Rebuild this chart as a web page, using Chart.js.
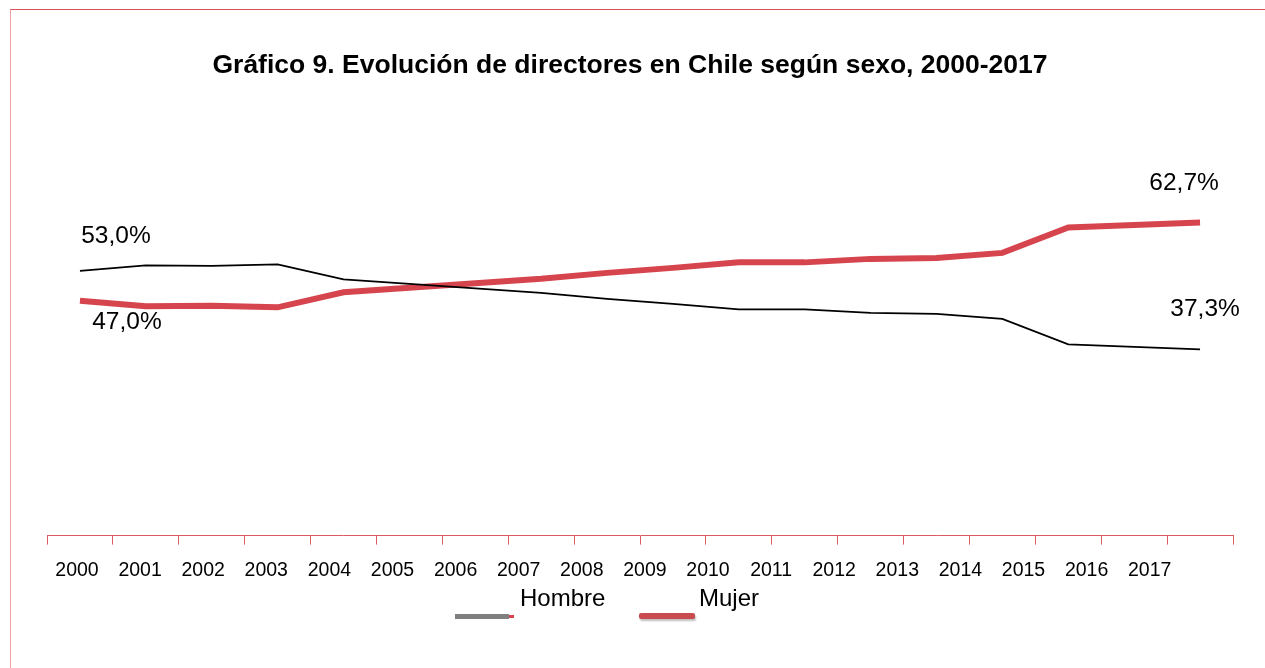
<!DOCTYPE html>
<html>
<head>
<meta charset="utf-8">
<script src="https://cdn.jsdelivr.net/npm/chart.js@4"></script>
<style>
  body { margin: 0; background: #fff; font-family: "Liberation Sans", Arial, sans-serif; }
  #wrap { position: relative; width: 1265px; height: 668px; overflow: hidden; }
  #frame { position: absolute; left: 10px; top: 9px; width: 1300px; height: 700px;
           border-top: 1px solid #d9525a; border-left: 1px solid #eea0a4; }
  canvas { position: absolute; left: 0; top: 0; }
  #titulo { position: absolute; left: 0; width: 1260px; top: 51px; text-align: center;
            font-size: 26.5px; font-weight: bold; line-height: 1; color: #000; }
  .leg { position: absolute; font-size: 24px; color: #000; line-height: 1; }
  .sw { position: absolute; }
</style>
</head>
<body>
<div id="wrap">
  <div id="frame"></div>
  <canvas id="grafico" width="1265" height="668"></canvas>
  <div id="titulo">Gráfico 9. Evolución de directores en Chile según sexo, 2000-2017</div>
  <div class="sw" style="left:455px;top:614px;width:54px;height:5px;background:#7f7f7f"></div>
  <div class="sw" style="left:509px;top:615px;width:5px;height:3px;background:#d6454e"></div>
  <div class="leg" style="left:520px;top:586px">Hombre</div>
  <div class="sw" style="left:639px;top:613px;width:56px;height:6px;background:#c94a4f;border-radius:2px;box-shadow:1px 2px 2px rgba(0,0,0,0.25)"></div>
  <div class="leg" style="left:699px;top:586px">Mujer</div>
</div>
<script>
  // Datos (porcentajes)
  const anios = ["2000", "2001", "2002", "2003", "2004", "2005", "2006", "2007", "2008",
                 "2009", "2010", "2011", "2012", "2013", "2014", "2015", "2016", "2017"];
  const hombre = [53.0, 54.1, 54.0, 54.3, 51.3, 50.4, 49.5, 48.6, 47.4,
                  46.4, 45.3, 45.3, 44.6, 44.4, 43.4, 38.3, 37.8, 37.3];
  const mujer = [47.0, 45.9, 46.0, 45.7, 48.7, 49.6, 50.5, 51.4, 52.6,
                 53.6, 54.7, 54.7, 55.4, 55.6, 56.6, 61.7, 62.2, 62.7];

  const fmt = v => v.toFixed(1).replace(".", ",") + "%";

  // Etiquetas de inicio y fin de cada serie
  const etiquetas = {
    id: "etiquetas",
    afterDatasetsDraw(chart) {
      const ctx = chart.ctx;
      ctx.save();
      ctx.font = "24.5px 'Liberation Sans', Arial";
      ctx.fillStyle = "#000";
      ctx.textAlign = "center";
      ctx.textBaseline = "middle";
      const offs = [
        [[36, -35], [5, -40]],   // Hombre
        [[47, 21], [-16, -39]]   // Mujer
      ];
      chart.data.datasets.forEach((ds, i) => {
        const pts = chart.getDatasetMeta(i).data;
        const first = pts[0], last = pts[pts.length - 1];
        ctx.fillText(fmt(ds.data[0]), first.x + offs[i][0][0], first.y + offs[i][0][1]);
        ctx.fillText(fmt(ds.data[ds.data.length - 1]), last.x + offs[i][1][0], last.y + offs[i][1][1]);
      });
      ctx.restore();
    }
  };

  const ctx = document.getElementById("grafico").getContext("2d");
  new Chart(ctx, {
    type: "line",
    data: {
      labels: anios,
      datasets: [
        { label: "Hombre", data: hombre, borderColor: "#000", borderWidth: 1.8,
          pointRadius: 0, tension: 0, fill: false },
        { label: "Mujer", data: mujer, borderColor: "#d6454e", borderWidth: 6,
          pointRadius: 0, tension: 0, fill: false }
      ]
    },
    options: {
      responsive: false,
      animation: false,
      layout: { padding: { left: 47, right: 32, top: 136, bottom: 80 } },
      plugins: {
        legend: { display: false },
        tooltip: { enabled: false },
        title: { display: false }
      },
      scales: {
        y: { display: false, min: 0, max: 80 },
        x: {
          weight: 0,
          offset: true,
          grid: { offset: true, drawOnChartArea: false, color: "#dc5a62", tickLength: 9 },
          border: { color: "#dc5a62" },
          ticks: { display: false }
        },
        xl: {
          type: "linear",
          position: "bottom",
          weight: 1,
          min: 1999.525,
          max: 2018.32,
          grid: { display: false },
          border: { display: false },
          ticks: {
            stepSize: 1,
            includeBounds: false,
            maxTicksLimit: 30,
            autoSkip: false,
            maxRotation: 0,
            padding: 6,
            color: "#000",
            font: { family: "'Liberation Sans', Arial", size: 19.5 },
            callback: v => (v <= 2017 ? String(v) : null)
          }
        }
      }
    },
    plugins: [etiquetas]
  });
</script>
</body>
</html>
